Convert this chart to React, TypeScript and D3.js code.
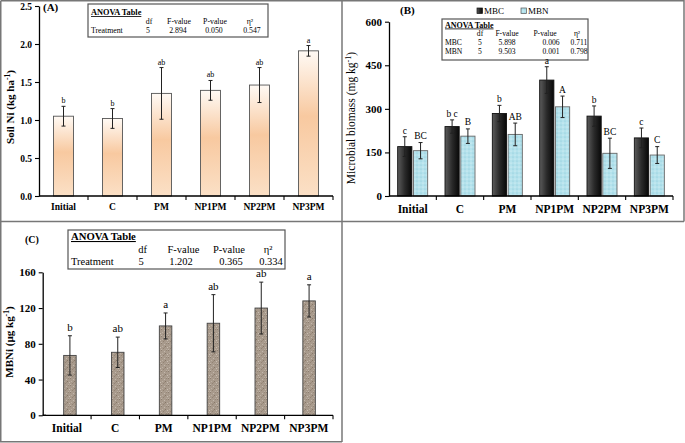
import * as d3 from "d3";
import { useEffect, useRef } from "react";

// treatments shared by the three panels
const treatments = ["Initial", "C", "PM", "NP1PM", "NP2PM", "NP3PM"];

// (A) soil Ni, kg/ha
const soilNi = [1.05, 1.02, 1.35, 1.39, 1.46, 1.91];
const soilNiErr = [0.13, 0.13, 0.34, 0.13, 0.23, 0.07];
const soilNiLetters = ["b", "b", "ab", "ab", "ab", "a"];

// (B) microbial biomass C and N, mg/kg
const mbc = [170, 239, 284, 399, 275, 200];
const mbcErr = [34, 23, 28, 46, 35, 34];
const mbcLetters = ["c", "b c", "b", "a", "b", "c"];
const mbn = [156, 206, 212, 307, 147, 141];
const mbnErr = [28, 25, 39, 37, 52, 29];
const mbnLetters = ["BC", "B", "AB", "A", "BC", "C"];

// (C) microbial biomass Ni, ug/kg
const mbni = [67, 70.5, 100, 103, 120, 128];
const mbniErr = [22, 17, 14.5, 32, 29, 18];
const mbniLetters = ["b", "ab", "a", "ab", "ab", "a"];

// ANOVA tables
const anovaHeader = ["df", "F-value", "P-value", "η²"];
const anovaA = [["Treatment", "5", "2.894", "0.050", "0.547"]];
const anovaB = [
  ["MBC", "5", "5.898", "0.006", "0.711"],
  ["MBN", "5", "9.503", "0.001", "0.798"],
];
const anovaC = [["Treatment", "5", "1.202", "0.365", "0.334"]];

const FONT = "'Liberation Serif', 'Times New Roman', serif";

type G = d3.Selection<SVGGElement, unknown, null, undefined>;

const drawAxes = (
  g: G,
  x: d3.ScaleBand<string>,
  y: d3.ScaleLinear<number, number>,
  ticks: number[],
  fmt: (d: number) => string,
  tickSize: number,
  labelSize: number,
  labelY: number
) => {
  const [x0, x1] = x.range();
  const y0 = y.range()[0];
  const ya = g
    .append("g")
    .attr("transform", `translate(${x0},0)`)
    .call(
      d3
        .axisLeft(y)
        .tickValues(ticks)
        .tickSize(4)
        .tickSizeOuter(0)
        .tickPadding(3)
        .tickFormat((d) => fmt(d as number))
    );
  ya.select(".domain").attr("stroke", "#000").attr("stroke-width", 1.3);
  ya.selectAll("line").attr("stroke", "#000").attr("stroke-width", 1.1);
  ya.selectAll("text")
    .attr("fill", "#000")
    .style("font-family", FONT)
    .style("font-weight", "bold")
    .style("font-size", `${tickSize}px`);

  g.append("line")
    .attr("x1", x0)
    .attr("x2", x1)
    .attr("y1", y0)
    .attr("y2", y0)
    .attr("stroke", "#000")
    .attr("stroke-width", 1.3);
  const bounds = treatments.slice(1).map((t) => x(t)!).concat([x1]);
  g.selectAll(null)
    .data(bounds)
    .enter()
    .append("line")
    .attr("x1", (d) => d)
    .attr("x2", (d) => d)
    .attr("y1", y0)
    .attr("y2", y0 + 4)
    .attr("stroke", "#000")
    .attr("stroke-width", 1.1);
  g.selectAll(null)
    .data(treatments)
    .enter()
    .append("text")
    .attr("x", (d) => x(d)! + x.bandwidth() / 2)
    .attr("y", labelY)
    .attr("text-anchor", "middle")
    .style("font-family", FONT)
    .style("font-weight", "bold")
    .style("font-size", `${labelSize}px`)
    .text((d) => d);
};

const drawBars = (
  g: G,
  cx: number[],
  width: number,
  y: d3.ScaleLinear<number, number>,
  vals: number[],
  errs: number[],
  letters: string[],
  fill: string,
  stroke: string,
  letterSize: number,
  letterGap: number
) => {
  const y0 = y.range()[0];
  const data = vals.map((v, i) => ({ v, e: errs[i], l: letters[i], c: cx[i] }));
  g.selectAll(null)
    .data(data)
    .enter()
    .append("rect")
    .attr("x", (d) => d.c - width / 2)
    .attr("y", (d) => y(d.v))
    .attr("width", width)
    .attr("height", (d) => y0 - y(d.v))
    .attr("fill", fill)
    .attr("stroke", stroke)
    .attr("stroke-width", 0.9);
  const eb = g.selectAll(null).data(data).enter().append("g").attr("stroke", "#222").attr("stroke-width", 1);
  eb.append("line")
    .attr("x1", (d) => d.c)
    .attr("x2", (d) => d.c)
    .attr("y1", (d) => y(d.v - d.e))
    .attr("y2", (d) => y(d.v + d.e));
  [1, -1].forEach((s) => {
    eb.append("line")
      .attr("x1", (d) => d.c - 2)
      .attr("x2", (d) => d.c + 2)
      .attr("y1", (d) => y(d.v + s * d.e))
      .attr("y2", (d) => y(d.v + s * d.e));
  });
  g.selectAll(null)
    .data(data)
    .enter()
    .append("text")
    .attr("x", (d) => d.c)
    .attr("y", (d) => y(d.v + d.e) - letterGap)
    .attr("text-anchor", "middle")
    .style("font-family", FONT)
    .style("font-size", `${letterSize}px`)
    .text((d) => d.l);
};

const drawTable = (
  g: G,
  box: { x: number; y: number; w: number; h: number },
  size: number,
  titleSize: number,
  baselines: number[],
  headX: number[],
  valX: number[],
  rows: string[][]
) => {
  g.append("rect")
    .attr("x", box.x)
    .attr("y", box.y)
    .attr("width", box.w)
    .attr("height", box.h)
    .attr("fill", "#fff")
    .attr("stroke", "#555")
    .attr("stroke-width", 1.2);
  const t = g.append("g").style("font-family", FONT).style("font-size", `${size}px`);
  t.append("text")
    .attr("x", box.x + 3)
    .attr("y", baselines[0])
    .style("font-weight", "bold")
    .style("font-size", `${titleSize}px`)
    .attr("text-decoration", "underline")
    .text("ANOVA Table");
  anovaHeader.forEach((h, i) => {
    t.append("text").attr("x", headX[i]).attr("y", baselines[1]).attr("text-anchor", "middle").text(h);
  });
  rows.forEach((r, j) => {
    t.append("text").attr("x", box.x + 3).attr("y", baselines[2 + j]).text(r[0]);
    r.slice(1).forEach((v, i) => {
      t.append("text").attr("x", valX[i]).attr("y", baselines[2 + j]).attr("text-anchor", "middle").text(v);
    });
  });
};

const yLabel = (g: G, x: number, y: number, size: number, bold: boolean, main: string, unit: string) => {
  const t = g
    .append("text")
    .attr("transform", `translate(${x},${y}) rotate(-90)`)
    .attr("text-anchor", "middle")
    .style("font-family", FONT)
    .style("font-weight", bold ? "bold" : "normal")
    .style("font-size", `${size}px`);
  t.append("tspan").text(`${main} (${unit}`);
  t.append("tspan").attr("dy", -4).style("font-size", `${size * 0.7}px`).text("-1");
  t.append("tspan").attr("dy", 4).text(")");
};

const panelTag = (g: G, x: number, y: number, size: number, s: string) => {
  g.append("text")
    .attr("x", x)
    .attr("y", y)
    .style("font-family", FONT)
    .style("font-weight", "bold")
    .style("font-size", `${size}px`)
    .text(s);
};

const App = () => {
  const svgRef = useRef<SVGSVGElement | null>(null);

  useEffect(() => {
    const svg = d3.select(svgRef.current);
    svg.selectAll("*").remove();
    const root = svg.append("g") as unknown as G;

    const defs = svg.append("defs");
    const peach = defs.append("linearGradient").attr("id", "peach").attr("x1", 0).attr("y1", 0).attr("x2", 0).attr("y2", 1);
    [
      ["0%", "#fffaf5"],
      ["45%", "#f8c9a0"],
      ["100%", "#fbe0c6"],
    ].forEach(([o, c]) => peach.append("stop").attr("offset", o).attr("stop-color", c));
    const dark = defs.append("linearGradient").attr("id", "dark").attr("x1", 0).attr("y1", 0).attr("x2", 1).attr("y2", 0);
    [
      ["0%", "#5c5c5c"],
      ["50%", "#2a2a2a"],
      ["100%", "#080808"],
    ].forEach(([o, c]) => dark.append("stop").attr("offset", o).attr("stop-color", c));
    const blue = defs.append("pattern").attr("id", "blue").attr("width", 4).attr("height", 4).attr("patternUnits", "userSpaceOnUse");
    blue.append("rect").attr("width", 4).attr("height", 4).attr("fill", "#b4e2ec");
    blue.append("circle").attr("cx", 1).attr("cy", 1).attr("r", 0.6).attr("fill", "#86c6d6");
    blue.append("circle").attr("cx", 3).attr("cy", 3).attr("r", 0.6).attr("fill", "#e6f6fa");
    // granite-like speckle for (C)
    const stone = defs.append("pattern").attr("id", "stone").attr("width", 7).attr("height", 7).attr("patternUnits", "userSpaceOnUse");
    stone.append("rect").attr("width", 7).attr("height", 7).attr("fill", "#a89a8c");
    [
      [0, 0, "#8c7e70"], [3, 1, "#c3b8ac"], [5, 0, "#978878"], [1, 3, "#bcb0a3"],
      [4, 3, "#877868"], [6, 4, "#c8bdb2"], [2, 5, "#928374"], [5, 6, "#b7ab9e"],
      [0, 6, "#c0b4a8"], [3, 4, "#9b8c7d"],
    ].forEach(([x, y, c]) =>
      stone.append("rect").attr("x", x).attr("y", y).attr("width", 1).attr("height", 1).attr("fill", c as string)
    );

    // ---- panel A
    const gA = root.append("g") as unknown as G;
    const xA = d3.scaleBand<string>().domain(treatments).range([39, 333]);
    const yA = d3.scaleLinear().domain([0, 2.5]).range([196, 6]);
    const cA = treatments.map((t) => xA(t)! + xA.bandwidth() / 2);
    drawBars(gA, cA, 20, yA, soilNi, soilNiErr, soilNiLetters, "url(#peach)", "#555", 8, 3);
    drawAxes(gA, xA, yA, d3.range(0, 2.51, 0.5), d3.format(".1f"), 9.5, 9.5, 210);
    yLabel(gA, 14, 107, 11, true, "Soil Ni", "kg ha");
    panelTag(gA, 43, 11, 11, "(A)");
    drawTable(gA, { x: 88, y: 4, w: 180, h: 33 }, 7.8, 8.3, [15, 24, 33], [149, 179, 215, 250], [148, 178, 214, 252], anovaA);

    // ---- panel B
    const gB = root.append("g") as unknown as G;
    const xB = d3.scaleBand<string>().domain(treatments).range([389, 673]);
    const yB = d3.scaleLinear().domain([0, 600]).range([196, 21.7]);
    const sub = d3.scaleBand<string>().domain(["MBC", "MBN"]).range([-15, 15]).paddingInner(0.1);
    const cMBC = treatments.map((t) => xB(t)! + xB.bandwidth() / 2 + sub("MBC")! + sub.bandwidth() / 2);
    const cMBN = treatments.map((t) => xB(t)! + xB.bandwidth() / 2 + sub("MBN")! + sub.bandwidth() / 2);
    drawTable(gB, { x: 442, y: 19, w: 146, h: 41 }, 7.6, 8, [27.5, 36, 44.5, 53.5], [480, 507, 545, 577], [480, 507, 551, 579], anovaB);
    drawBars(gB, cMBC, sub.bandwidth(), yB, mbc, mbcErr, mbcLetters, "url(#dark)", "#111", 9.5, 3);
    drawBars(gB, cMBN, sub.bandwidth(), yB, mbn, mbnErr, mbnLetters, "url(#blue)", "#666", 9.5, 3.5);
    drawAxes(gB, xB, yB, d3.range(0, 601, 150), d3.format("d"), 11, 11.5, 213);
    yLabel(gB, 355, 118, 11.5, false, "Microbial biomass", "mg kg");
    panelTag(gB, 400, 14, 11, "(B)");
    const legend = [
      { label: "MBC", fill: "url(#dark)", stroke: "#111", x: 477 },
      { label: "MBN", fill: "url(#blue)", stroke: "#555", x: 521 },
    ];
    legend.forEach((l) => {
      gB.append("rect").attr("x", l.x).attr("y", 8).attr("width", 5.5).attr("height", 5.5).attr("fill", l.fill).attr("stroke", l.stroke).attr("stroke-width", 0.7);
      gB.append("text").attr("x", l.x + 7).attr("y", 14).style("font-family", FONT).style("font-size", "9px").text(l.label);
    });

    // ---- panel C
    const gC = root.append("g") as unknown as G;
    const xC = d3.scaleBand<string>().domain(treatments).range([46, 333]);
    const yC = d3.scaleLinear().domain([0, 160]).range([415.3, 272.3]);
    const cC = treatments.map((t) => xC(t)! + xC.bandwidth() / 2);
    drawBars(gC, cC, 12.5, yC, mbni, mbniErr, mbniLetters, "url(#stone)", "#444", 11, 5);
    // y-axis of (C) sits a little left of the category axis
    gC.append("line").attr("x1", 42.7).attr("x2", 46).attr("y1", 415.3).attr("y2", 415.3).attr("stroke", "#000").attr("stroke-width", 1.3);
    const xCaxis = d3.scaleBand<string>().domain(treatments).range([42.7, 333]);
    drawAxes(gC, xCaxis, yC, d3.range(0, 161, 40), d3.format("d"), 11, 11.5, 432);
    yLabel(gC, 13, 342, 11, true, "MBNi", "µg kg");
    panelTag(gC, 25, 243, 10, "(C)");
    drawTable(gC, { x: 68, y: 230, w: 217, h: 39 }, 10.5, 10.7, [240, 253, 265], [142.7, 183.5, 229, 268], [141, 181, 231, 271], anovaC);

    // ---- panel frames
    const frame = [
      [0.75, 0.75, 684, 0.75],
      [0.75, 0.75, 0.75, 442],
      [0, 221.5, 684, 221.5],
      [342, 0, 342, 442],
      [684, 0, 684, 221.5],
      [0, 441.7, 342, 441.7],
    ];
    root
      .selectAll(null)
      .data(frame)
      .enter()
      .append("line")
      .attr("x1", (d) => d[0])
      .attr("y1", (d) => d[1])
      .attr("x2", (d) => d[2])
      .attr("y2", (d) => d[3])
      .attr("stroke", "#777")
      .attr("stroke-width", 1.5);
  }, []);

  return (
    <svg
      ref={svgRef}
      width={685}
      height={443}
      style={{ position: "absolute", left: 0, top: 0, background: "#fff" }}
    />
  );
};

export default App;
